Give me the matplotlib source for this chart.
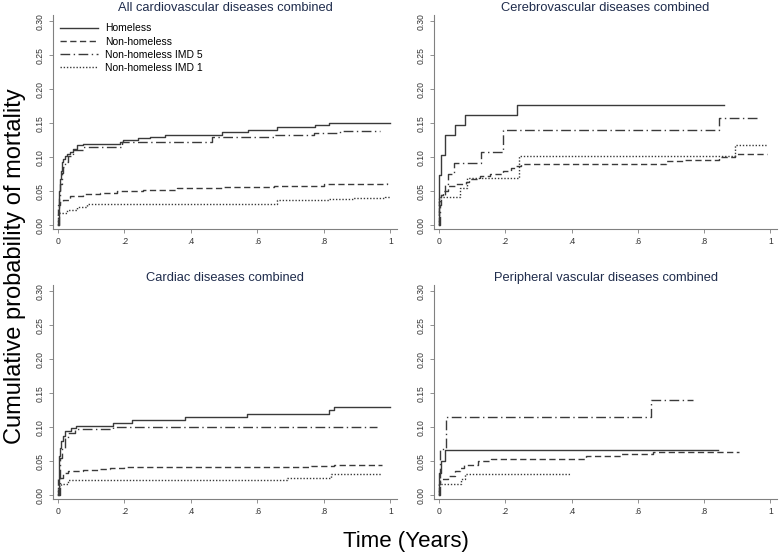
import matplotlib
matplotlib.use("Agg")
import matplotlib.pyplot as plt

plt.rcParams['font.family'] = ['Liberation Sans', 'DejaVu Sans']

# series order: Homeless, Non-homeless, Non-homeless IMD 5, Non-homeless IMD 1
series_labels = ['Homeless', 'Non-homeless', 'Non-homeless IMD 5', 'Non-homeless IMD 1']
panel_titles = ['All cardiovascular diseases combined', 'Cerebrovascular diseases combined',
                'Cardiac diseases combined', 'Peripheral vascular diseases combined']
x_ticks = [0, 0.2, 0.4, 0.6, 0.8, 1.0]
x_ticklabels = ['0', '.2', '.4', '.6', '.8', '1']
y_ticks = [0, 0.05, 0.10, 0.15, 0.20, 0.25, 0.30]
y_ticklabels = ['0.00', '0.05', '0.10', '0.15', '0.20', '0.25', '0.30']

# --- all cardiovascular ---
cvd_hl_t = [0, 0.002, 0.004, 0.006, 0.009, 0.012, 0.016, 0.021, 0.028, 0.036, 0.046, 0.056, 0.076,
            0.187, 0.197, 0.24, 0.277, 0.322, 0.493, 0.573, 0.659, 0.774, 0.814, 1.0]
cvd_hl_p = [0, 0.03, 0.05, 0.0675, 0.08, 0.0925, 0.097, 0.1025, 0.105, 0.1075, 0.1125, 0.1175, 0.12,
            0.1225, 0.125, 0.128, 0.13, 0.133, 0.137, 0.1405, 0.1445, 0.147, 0.150, 0.151]
cvd_nh_t = [0, 0.001, 0.005, 0.016, 0.036, 0.076, 0.126, 0.177, 0.257, 0.357, 0.5, 0.65, 0.8, 0.99]
cvd_nh_p = [0, 0.03, 0.034, 0.0375, 0.0425, 0.0465, 0.048, 0.05, 0.0525, 0.055, 0.0565, 0.058, 0.060, 0.0625]
cvd_i5_t = [0, 0.003, 0.006, 0.011, 0.016, 0.021, 0.031, 0.046, 0.076, 0.192, 0.463, 0.654, 0.769, 0.849, 0.97]
cvd_i5_p = [0, 0.04, 0.06, 0.0775, 0.085, 0.0925, 0.1025, 0.11, 0.115, 0.122, 0.1296, 0.133, 0.1357, 0.139, 0.139]
cvd_i1_t = [0, 0.001, 0.026, 0.056, 0.086, 0.659, 0.814, 0.888, 0.985, 1.0]
cvd_i1_p = [0, 0.0175, 0.0225, 0.0265, 0.031, 0.0366, 0.038, 0.0405, 0.042, 0.042]

# --- cerebrovascular ---
cer_hl_t = [0, 0.001, 0.005, 0.017, 0.047, 0.08, 0.236, 0.861]
cer_hl_p = [0, 0.074, 0.103, 0.132, 0.147, 0.162, 0.177, 0.177]
cer_nh_t = [0, 0.001, 0.005, 0.012, 0.028, 0.05, 0.082, 0.092, 0.123, 0.153, 0.194, 0.218, 0.233, 0.248,
            0.686, 0.736, 0.846, 0.892, 0.99]
cer_nh_p = [0, 0.035, 0.045, 0.05, 0.058, 0.06, 0.063, 0.068, 0.072, 0.075, 0.08, 0.084, 0.087, 0.0905,
            0.094, 0.0966, 0.1005, 0.104, 0.104]
cer_i5_t = [0, 0.002, 0.007, 0.017, 0.028, 0.045, 0.126, 0.192, 0.844, 0.966]
cer_i5_p = [0, 0.03, 0.045, 0.06, 0.076, 0.091, 0.108, 0.14, 0.158, 0.158]
cer_i1_t = [0, 0.001, 0.063, 0.085, 0.24, 0.892, 0.99]
cer_i1_p = [0, 0.041, 0.055, 0.069, 0.1015, 0.1185, 0.1185]

# --- cardiac ---
car_hl_t = [0, 0.003, 0.006, 0.009, 0.014, 0.021, 0.038, 0.054, 0.167, 0.222, 0.382, 0.568, 0.814, 0.829, 1.0]
car_hl_p = [0, 0.057, 0.07, 0.08, 0.087, 0.094, 0.099, 0.1025, 0.106, 0.111, 0.115, 0.119, 0.125, 0.13, 0.13]
car_nh_t = [0, 0.001, 0.015, 0.03, 0.075, 0.126, 0.156, 0.2, 0.7, 0.76, 0.83, 0.975]
car_nh_p = [0, 0.025, 0.032, 0.035, 0.037, 0.039, 0.04, 0.041, 0.042, 0.043, 0.044, 0.044]
car_i5_t = [0, 0.006, 0.012, 0.021, 0.031, 0.051, 0.167, 0.96]
car_i5_p = [0, 0.055, 0.07, 0.084, 0.092, 0.097, 0.1, 0.1]
car_i1_t = [0, 0.001, 0.01, 0.03, 0.688, 0.82, 0.975]
car_i1_p = [0, 0.014, 0.017, 0.022, 0.026, 0.031, 0.031]

# --- peripheral vascular ---
per_hl_t = [0, 0.001, 0.006, 0.018, 0.841]
per_hl_p = [0, 0.033, 0.05, 0.067, 0.067]
per_nh_t = [0, 0.001, 0.004, 0.028, 0.048, 0.062, 0.077, 0.118, 0.158, 0.444, 0.548, 0.645, 0.906]
per_nh_p = [0, 0.016, 0.024, 0.028, 0.035, 0.04, 0.045, 0.05, 0.053, 0.057, 0.06, 0.064, 0.064]
per_i5_t = [0, 0.002, 0.004, 0.02, 0.64, 0.766]
per_i5_p = [0, 0.035, 0.068, 0.115, 0.14, 0.14]
per_i1_t = [0, 0.001, 0.066, 0.08, 0.394]
per_i1_p = [0, 0.016, 0.024, 0.031, 0.031]

panels = [
    [(cvd_hl_t, cvd_hl_p), (cvd_nh_t, cvd_nh_p), (cvd_i5_t, cvd_i5_p), (cvd_i1_t, cvd_i1_p)],
    [(cer_hl_t, cer_hl_p), (cer_nh_t, cer_nh_p), (cer_i5_t, cer_i5_p), (cer_i1_t, cer_i1_p)],
    [(car_hl_t, car_hl_p), (car_nh_t, car_nh_p), (car_i5_t, car_i5_p), (car_i1_t, car_i1_p)],
    [(per_hl_t, per_hl_p), (per_nh_t, per_nh_p), (per_i5_t, per_i5_p), (per_i1_t, per_i1_p)],
]

styles = ['-', (0, (4.5, 2.5)), (0, (7, 2.5, 1, 2.5)), (0, (1, 1.3))]
line_col = '#3a3a3a'
axis_col = '#808080'
title_col = '#1f2c4c'

fig = plt.figure(figsize=(7.8, 5.56), dpi=100)
W, H = 780, 556
# axes boxes in pixels: left, top, right, bottom
boxes = [(53, 15, 397, 229), (434, 15, 777, 229), (53, 285, 397, 499), (434, 285, 777, 499)]

for i, (box, data) in enumerate(zip(boxes, panels)):
    l, t, r, b = box
    ax = fig.add_axes([l / W, 1 - b / H, (r - l) / W, (b - t) / H])
    for (tt, pp), ls, lab in zip(data, styles, series_labels):
        ax.step(tt, pp, where='post', color=line_col, lw=1.0, linestyle=ls, label=lab)
    ax.set_xlim(-0.015, 1.02)
    ax.set_ylim(-0.0055, 0.309)
    ax.set_xticks(x_ticks)
    ax.set_xticklabels(x_ticklabels)
    ax.set_yticks(y_ticks)
    ax.set_yticklabels(y_ticklabels, rotation=90, va='center')
    ax.tick_params(axis='both', labelsize=6.2, colors='#333333', length=3, width=0.6, pad=3)
    ax.tick_params(axis='both', color=axis_col)
    for s in ['top', 'right']:
        ax.spines[s].set_visible(False)
    for s in ['left', 'bottom']:
        ax.spines[s].set_color(axis_col)
        ax.spines[s].set_linewidth(0.8)
    ax.set_title(panel_titles[i], fontsize=9.3, color=title_col, pad=3)
    if i == 0:
        ax.legend(loc='upper left', bbox_to_anchor=(0.008, 0.98), frameon=False, fontsize=7.5,
                  handlelength=3.7, handletextpad=0.6, labelspacing=0.3, borderaxespad=0.0)

fig.text(15 / W, 1 - 266 / H, 'Cumulative probability of mortality', rotation=90,
         fontsize=17, ha='center', va='center')
fig.text(406 / W, 1 - 542 / H, 'Time (Years)', fontsize=16, ha='center', va='center')

fig.savefig('out.png', dpi=100)
